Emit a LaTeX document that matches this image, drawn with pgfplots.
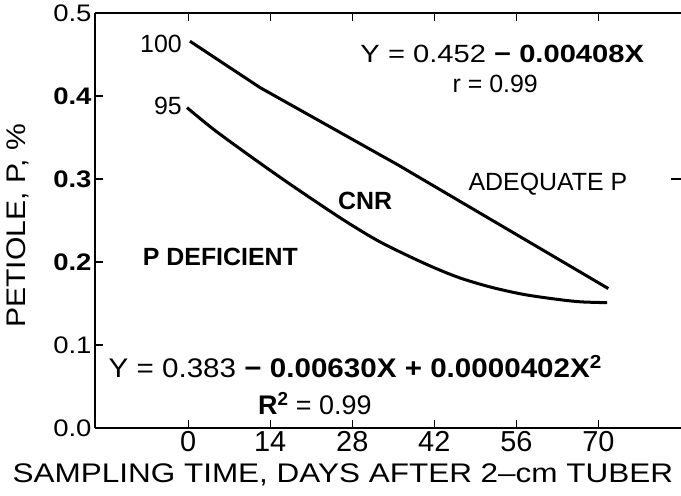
\documentclass[border=0pt]{standalone}
\usepackage{fontspec}
\setmainfont{Liberation Sans}
\newfontfamily\sA{Liberation Sans}[FakeStretch=1.17]
\newfontfamily\sB{Liberation Sans}[FakeStretch=1.10]
\newfontfamily\sC{Liberation Sans}[FakeStretch=1.12]
\newfontfamily\sD{Liberation Sans}[FakeStretch=1.15]
\usepackage{pgfplots}
\pgfplotsset{compat=1.18}
\newcommand\F{\fontsize{25}{30}\selectfont}
\begin{document}
\begin{tikzpicture}
\useasboundingbox (-95bp,-68bp) rectangle (586bp,428bp);
\begin{axis}[
  scale only axis, width=586bp, height=415bp,
  xmin=-15.9, xmax=84.1, ymin=0, ymax=0.5,
  axis x line=box, axis y line=left,
  x axis line style={-}, y axis line style={-},
  axis line style={line width=2.5bp},
  xtick={0,14,28,42,56,70},
  xticklabels={0,14,28,42,56,70},
  ytick={0,0.1,0.2,0.3,0.4,0.5},
  yticklabels={0.0,0.1,\textbf{0.2},\textbf{0.3},\textbf{0.4},0.5},
  tick align=inside,
  major tick length=8bp,
  tick style={line width=1.2bp, black},
  xticklabel style={font=\fontsize{29}{34}\selectfont},
  yticklabel style={font=\sD\fontsize{24}{28}\selectfont},
  xlabel={SAMPLING TIME, DAYS AFTER 2–cm TUBER},
  ylabel={PETIOLE, P, \%},
  xlabel style={font=\sA\fontsize{27}{32}\selectfont, at={(rel axis cs:0.423,-0.113)}, anchor=center},
  ylabel style={font=\sC\fontsize{27}{32}\selectfont, at={(rel axis cs:-0.131,0.487)}, anchor=center, rotate=0},
  clip=false,
]
\addplot[black, line width=3bp] coordinates {(0.3,0.466) (12.3,0.410) (35.8,0.317) (71.7,0.168)};
\addplot[black, line width=3bp, smooth] coordinates {
(-0.2,0.386) (4.3,0.360) (10.1,0.330) (15.7,0.302) (21.3,0.275) (27.1,0.248)
(32.8,0.224) (40.1,0.199) (45.9,0.182) (51.5,0.170) (57.2,0.161) (63.0,0.155)
(67,0.152) (71.5,0.151)};
\draw[line width=1.2bp] (axis cs:82.4,0.3) -- (axis cs:84.1,0.3);
\node[font=\F, anchor=east] at (axis cs:-0.5,0.4626) {100};
\node[font=\F, anchor=east] at (axis cs:-0.5,0.3877) {95};
\node[font=\sA\F] at (axis cs:53.6,0.4505) {Y = 0.452 \textbf{− 0.00408X}};
\node[font=\F] at (axis cs:52.4,0.414) {r = 0.99};
\node[font=\F] at (axis cs:61.4,0.2935) {ADEQUATE P};
\node[font=\F\bfseries] at (axis cs:30.2,0.273) {CNR};
\node[font=\F\bfseries] at (axis cs:5.5,0.2065) {P DEFICIENT};
\node[font=\sB\fontsize{27}{32}\selectfont, anchor=base west, inner sep=0pt] at (axis cs:-13.6,0.0604) {Y = 0.383 \textbf{− 0.00630X + 0.0000402X\textsuperscript{2}}};
\node[font=\fontsize{27}{32}\selectfont, anchor=base west, inner sep=0pt] at (axis cs:11.9,0.0157) {\textbf{R\textsuperscript{2}} = 0.99};
\end{axis}
\end{tikzpicture}
\end{document}
